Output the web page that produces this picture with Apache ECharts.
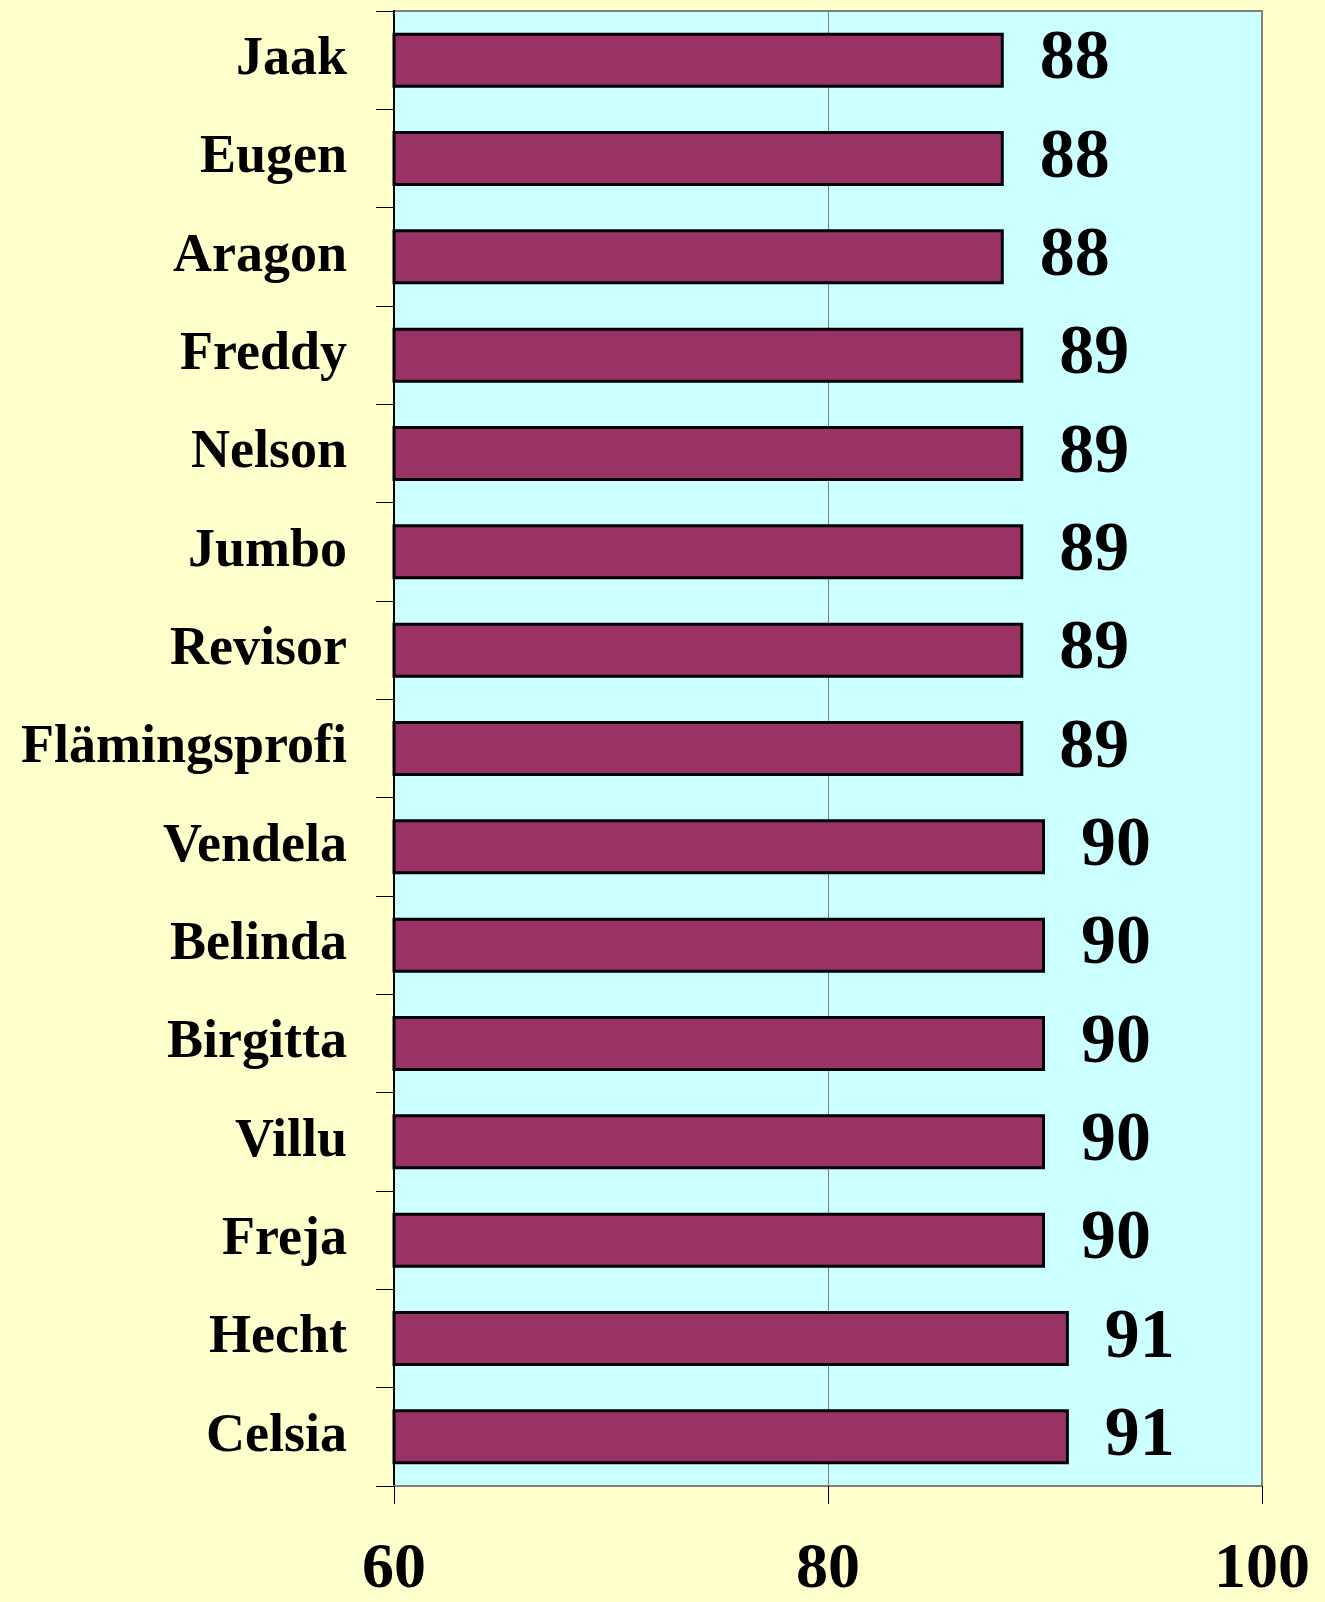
<!DOCTYPE html>
<html>
<head>
<meta charset="utf-8">
<script src="https://cdn.jsdelivr.net/npm/echarts@6/dist/echarts.min.js"></script>
<style>
  html, body { margin: 0; padding: 0; background: #FFFFCC; }
  #chart { width: 1325px; height: 1602px; }
</style>
</head>
<body>
<div id="chart"></div>
<script>
// varieties, top to bottom
const varieties = ['Jaak', 'Eugen', 'Aragon', 'Freddy', 'Nelson', 'Jumbo', 'Revisor',
  'Flämingsprofi', 'Vendela', 'Belinda', 'Birgitta', 'Villu', 'Freja', 'Hecht', 'Celsia'];
// bar lengths
const scores = [88.1, 88.1, 88.1, 89.0, 89.0, 89.0, 89.0, 89.0, 90.0, 90.0, 90.0, 90.0, 90.0, 91.1, 91.1];
// printed labels
const scoreLabels = ['88', '88', '88', '89', '89', '89', '89', '89', '90', '90', '90', '90', '90', '91', '91'];

const serif = '"Liberation Serif", "Times New Roman", serif';

const chart = echarts.init(document.getElementById('chart'));

const option = {
  backgroundColor: '#FFFFCC',
  animation: false,
  grid: {
    left: 394, right: 63, top: 11, bottom: 112,
    show: true,
    backgroundColor: '#CCFFFF',
    borderColor: '#808080',
    borderWidth: 2
  },
  xAxis: {
    type: 'value',
    min: 60,
    max: 100,
    interval: 20,
    axisLine: { show: true, lineStyle: { color: '#808080', width: 2 } },
    axisTick: { show: true, length: 18, lineStyle: { color: '#000', width: 1 } },
    splitLine: { show: true, lineStyle: { color: '#808080', width: 1 } },
    axisLabel: {
      color: '#000',
      fontFamily: serif,
      fontWeight: 'bold',
      fontSize: 64,
      margin: 52
    }
  },
  yAxis: {
    type: 'category',
    data: varieties,
    inverse: true,
    axisLine: { show: true, lineStyle: { color: '#000', width: 2 } },
    axisTick: { show: true, length: 18, lineStyle: { color: '#000', width: 1 } },
    axisLabel: {
      color: '#000',
      fontFamily: serif,
      fontWeight: 'bold',
      fontSize: 54,
      margin: 47
    }
  },
  series: [{
    type: 'bar',
    data: scores,
    barWidth: 55,
    itemStyle: { color: '#993366', borderColor: '#000', borderWidth: 3 },
    label: {
      show: true,
      position: 'right',
      distance: 36,
      color: '#000',
      fontFamily: serif,
      fontWeight: 'bold',
      fontSize: 70,
      formatter: p => scoreLabels[p.dataIndex]
    }
  }]
};

chart.setOption(option);
</script>
</body>
</html>
